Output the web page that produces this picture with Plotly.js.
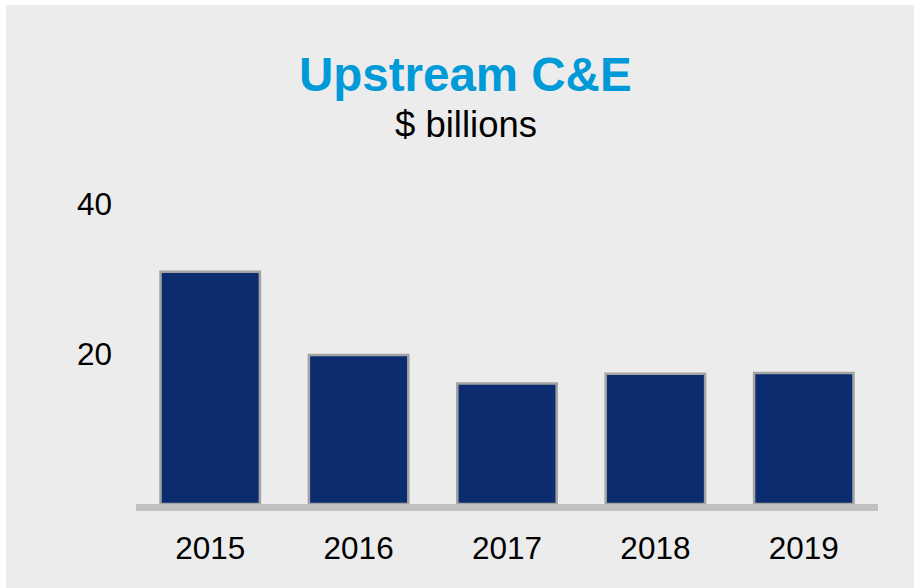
<!DOCTYPE html>
<html>
<head>
<meta charset="utf-8">
<script src="https://cdn.plot.ly/plotly-3.0.1.min.js"></script>
<style>
  html, body { margin: 0; padding: 0; background: #ffffff; width: 914px; height: 588px; overflow: hidden; }
  #chart { position: absolute; left: 6px; top: 5px; width: 908px; height: 583px; }
</style>
</head>
<body>
<div id="chart"></div>
<script>
const years = ["2015", "2016", "2017", "2018", "2019"];
const upstreamCE = [31.0, 19.9, 16.1, 17.4, 17.5];
const yTickVals = [20, 40];
const yTickText = ["20", "40"];

const trace = {
  type: "bar",
  x: years,
  y: upstreamCE,
  width: 0.67,
  marker: { color: "#0b2c6f", line: { color: "#a3a3a3", width: 2.5 } },
  hoverinfo: "none"
};

const layout = {
  width: 908,
  height: 583,
  paper_bgcolor: "#ececec",
  plot_bgcolor: "#ececec",
  margin: { l: 130, r: 36, t: 162, b: 84 },
  font: { family: "Liberation Sans, Arial, sans-serif", color: "#000000", size: 31 },
  showlegend: false,
  xaxis: {
    type: "category",
    range: [-0.5, 4.5],
    showgrid: false,
    zeroline: false,
    showline: true,
    linecolor: "#c0c0c0",
    linewidth: 7,
    ticks: "",
    ticklabelstandoff: 10,
    tickfont: { size: 31.5, color: "#000000" },
    fixedrange: true
  },
  yaxis: {
    range: [0, 45],
    showgrid: false,
    zeroline: false,
    showline: false,
    ticks: "",
    tickmode: "array",
    tickvals: yTickVals,
    ticktext: yTickText,
    ticklabelstandoff: 23,
    tickfont: { size: 31.5, color: "#000000" },
    fixedrange: true
  },
  annotations: [
    {
      text: "<b>Upstream C&amp;E</b>",
      xref: "paper", yref: "paper",
      x: 0.4447, y: 1.2756,
      xanchor: "center", yanchor: "middle",
      showarrow: false,
      font: { size: 47.5, color: "#009ad9", family: "Liberation Sans, Arial, sans-serif" }
    },
    {
      text: "$ billions",
      xref: "paper", yref: "paper",
      x: 0.4447, y: 1.125,
      xanchor: "center", yanchor: "middle",
      showarrow: false,
      font: { size: 36.5, color: "#000000", family: "Liberation Sans, Arial, sans-serif" }
    }
  ]
};

Plotly.newPlot("chart", [trace], layout, { displayModeBar: false, staticPlot: true });
</script>
</body>
</html>
